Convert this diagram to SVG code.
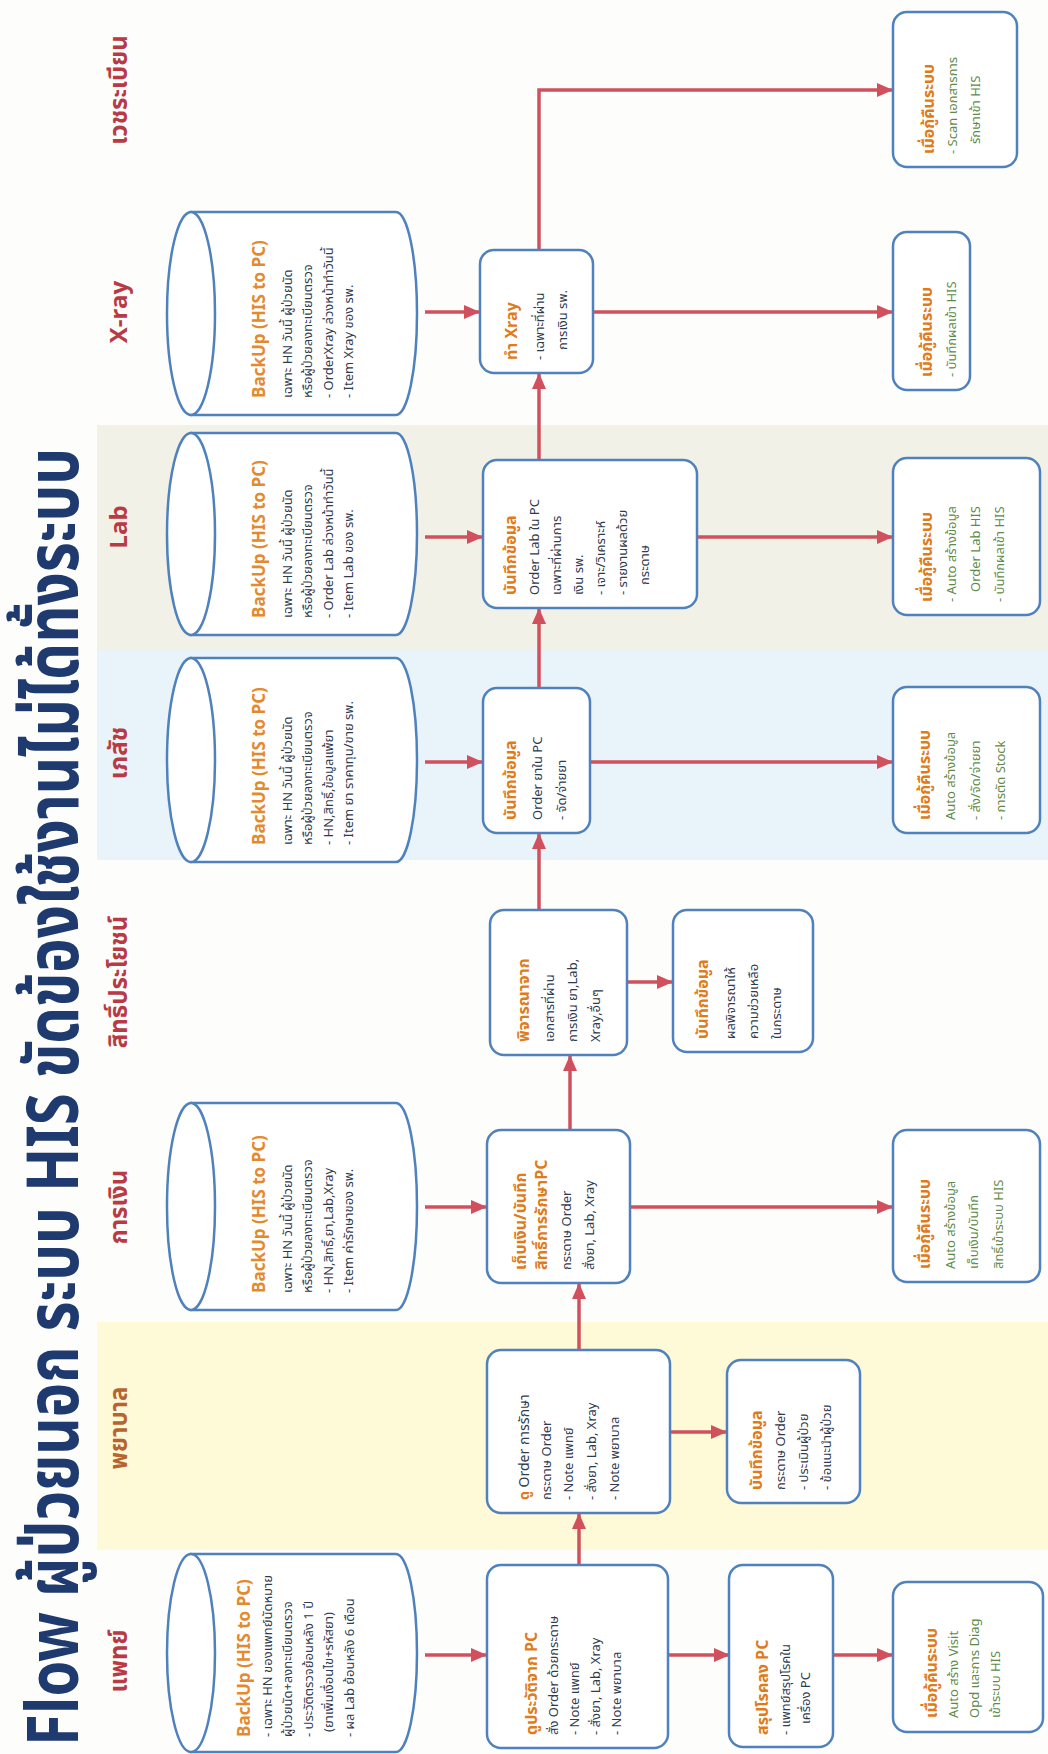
<svg xmlns="http://www.w3.org/2000/svg" width="1048" height="1754" viewBox="0 0 1048 1754">
<style>
text{font-family:"Noto Sans Thai","Noto Sans","DejaVu Sans",sans-serif}
.title{font-weight:700;font-size:72px;fill:#1e3a6e}
.hd{font-weight:700;font-size:24px;fill:#b83a44;text-anchor:middle}
.hd2{font-weight:700;font-size:24px;fill:#b7652f;text-anchor:middle}
.ct{font-weight:700;font-size:17px;fill:#e38a2e}
.bt{font-weight:700;font-size:16px;fill:#e07b1a}
.tx{font-size:13px;fill:#2f3b4f}
.gt{font-size:13px;fill:#5f8b4a}
.box{fill:#ffffff;stroke:#4f81bd;stroke-width:2.5}
.cyl{fill:#ffffff;stroke:#4f81bd;stroke-width:2.5}
.arr{fill:none;stroke:#d0505e;stroke-width:3.5;marker-end:url(#ah)}
</style>
<defs>
<marker id="ah" markerWidth="16" markerHeight="14" refX="15" refY="7" orient="auto" markerUnits="userSpaceOnUse"><path d="M0,0 L16,7 L0,14 Z" fill="#d0505e"/></marker>
</defs>
<rect x="0" y="0" width="1048" height="1754" fill="#fdfdfb"/>
<g transform="translate(0,1754) rotate(-90)">
<g id="bands">
<rect x="204" y="97" width="228" height="951" fill="#fef9d7"/>
<rect x="894" y="97" width="210" height="951" fill="#e8f4f9"/>
<rect x="1104" y="97" width="225" height="951" fill="#f2f1e7"/>
</g>
<text id="title" class="title" x="8" y="78" textLength="1298" lengthAdjust="spacingAndGlyphs">Flow ผู้ป่วยนอก ระบบ HIS ขัดข้องใช้งานไม่ได้ทั้งระบบ</text>
<g id="headers">
<text class="hd" x="93" y="127">แพทย์</text>
<text class="hd2" x="326" y="127">พยาบาล</text>
<text class="hd" x="547" y="127">การเงิน</text>
<text class="hd" x="772" y="127">สิทธิ์ประโยชน์</text>
<text class="hd" x="1001" y="127">เภสัช</text>
<text class="hd" x="1227" y="127">Lab</text>
<text class="hd" x="1442" y="127">X-ray</text>
<text class="hd" x="1664" y="127">เวชระเบียน</text>
</g>
<g id="connectors">
<path class="arr" d="M99,425 L99,486"/>
<path class="arr" d="M547,425 L547,486"/>
<path class="arr" d="M992,425 L992,482"/>
<path class="arr" d="M1217,425 L1217,482"/>
<path class="arr" d="M1442,425 L1442,479"/>
<path class="arr" d="M99,668 L99,729"/>
<path class="arr" d="M99,833 L99,892"/>
<path class="arr" d="M322,670 L322,726"/>
<path class="arr" d="M547,630 L547,892"/>
<path class="arr" d="M772,627 L772,672"/>
<path class="arr" d="M992,590 L992,892"/>
<path class="arr" d="M1217,697 L1217,892"/>
<path class="arr" d="M1442,593 L1442,892"/>
<path class="arr" d="M189,579 L240,579"/>
<path class="arr" d="M404,579 L470,579"/>
<path class="arr" d="M624,570 L698,570"/>
<path class="arr" d="M844,539 L920,539"/>
<path class="arr" d="M1066,539 L1145,539"/>
<path class="arr" d="M1294,539 L1380,539"/>
<path class="arr" d="M1504,539 L1664,539 L1664,892"/>
</g>
<g id="cyl-doctor">
<path class="cyl" d="M2,191 L2,396 A99,21 0 0 0 200,396 L200,191 Z"/>
<ellipse class="cyl" cx="101" cy="191" rx="99" ry="24"/>
<text class="ct" x="17" y="250">BackUp (HIS to PC)</text>
<text class="tx" x="17" y="272">- เฉพาะ HN ของแพทย์นัดหมาย</text>
<text class="tx" x="17" y="292">ผู้ป่วยนัด+ลงทะเบียนตรวจ</text>
<text class="tx" x="17" y="313">- ประวัติตรวจย้อนหลัง 1 ปี</text>
<text class="tx" x="22" y="333">(ยาเพิ่มเงื่อนไข+รหัสยา)</text>
<text class="tx" x="17" y="354">- ผล Lab ย้อนหลัง 6 เดือน</text>
</g>
<g id="cyl-finance">
<path class="cyl" d="M444,191 L444,396 A103.5,21 0 0 0 651,396 L651,191 Z"/>
<ellipse class="cyl" cx="547.5" cy="191" rx="103.5" ry="24"/>
<text class="ct" x="461" y="265">BackUp (HIS to PC)</text>
<text class="tx" x="461" y="292">เฉพาะ HN วันนี้ ผู้ป่วยนัด</text>
<text class="tx" x="461" y="312">หรือผู้ป่วยลงทะเบียนตรวจ</text>
<text class="tx" x="461" y="333">- HN,สิทธิ์,ยา,Lab,Xray</text>
<text class="tx" x="461" y="353">- Item ค่ารักษาของ รพ.</text>
</g>
<g id="cyl-pharmacy">
<path class="cyl" d="M892,191 L892,396 A102,21 0 0 0 1096,396 L1096,191 Z"/>
<ellipse class="cyl" cx="994" cy="191" rx="102" ry="24"/>
<text class="ct" x="909" y="265">BackUp (HIS to PC)</text>
<text class="tx" x="909" y="292">เฉพาะ HN วันนี้ ผู้ป่วยนัด</text>
<text class="tx" x="909" y="312">หรือผู้ป่วยลงทะเบียนตรวจ</text>
<text class="tx" x="909" y="333">- HN,สิทธิ์,ข้อมูลแพ้ยา</text>
<text class="tx" x="909" y="353">- Item ยา ราคาทุน/ขาย รพ.</text>
</g>
<g id="cyl-lab">
<path class="cyl" d="M1119,191 L1119,396 A101,21 0 0 0 1321,396 L1321,191 Z"/>
<ellipse class="cyl" cx="1220" cy="191" rx="101" ry="24"/>
<text class="ct" x="1136" y="265">BackUp (HIS to PC)</text>
<text class="tx" x="1136" y="292">เฉพาะ HN วันนี้ ผู้ป่วยนัด</text>
<text class="tx" x="1136" y="312">หรือผู้ป่วยลงทะเบียนตรวจ</text>
<text class="tx" x="1136" y="333">- Order Lab ล่วงหน้าทำวันนี้</text>
<text class="tx" x="1136" y="353">- Item Lab ของ รพ.</text>
</g>
<g id="cyl-xray">
<path class="cyl" d="M1339,191 L1339,396 A101.5,21 0 0 0 1542,396 L1542,191 Z"/>
<ellipse class="cyl" cx="1440.5" cy="191" rx="101.5" ry="24"/>
<text class="ct" x="1356" y="265">BackUp (HIS to PC)</text>
<text class="tx" x="1356" y="292">เฉพาะ HN วันนี้ ผู้ป่วยนัด</text>
<text class="tx" x="1356" y="312">หรือผู้ป่วยลงทะเบียนตรวจ</text>
<text class="tx" x="1356" y="333">- OrderXray ล่วงหน้าทำวันนี้</text>
<text class="tx" x="1356" y="353">- Item Xray ของ รพ.</text>
</g>
<g id="doc-view">
<rect class="box" x="6" y="487" width="183" height="181" rx="14"/>
<text class="bt" x="19" y="537">ดูประวัติจาก PC</text>
<text class="tx" x="19" y="558">สั่ง Order ด้วยกระดาษ</text>
<text class="tx" x="19" y="579">- Note แพทย์</text>
<text class="tx" x="19" y="600">- สั่งยา, Lab, Xray</text>
<text class="tx" x="19" y="621">- Note พยาบาล</text>
</g>
<g id="doc-summary">
<rect class="box" x="7" y="729" width="182" height="104" rx="14"/>
<text class="bt" x="19" y="768">สรุปโรคลง PC</text>
<text class="tx" x="19" y="790">- แพทย์สรุปโรคใน</text>
<text class="tx" x="30" y="810">เครื่อง PC</text>
</g>
<g id="doc-recover">
<rect class="box" x="22" y="893" width="150" height="150" rx="14"/>
<text class="bt" x="36" y="937">เมื่อกู้คืนระบบ</text>
<text class="gt" x="36" y="958">Auto สร้าง Visit</text>
<text class="gt" x="36" y="979">Opd และการ Diag</text>
<text class="gt" x="36" y="1000">เข้าระบบ HIS</text>
</g>
<g id="nurse-order">
<rect class="box" x="241" y="487" width="163" height="183" rx="14"/>
<text class="tx" x="254" y="529" style="font-size:14px"><tspan style="fill:#e07b1a;font-weight:700">ดู</tspan> Order การรักษา</text>
<text class="tx" x="254" y="551">กระดาษ Order</text>
<text class="tx" x="254" y="573">- Note แพทย์</text>
<text class="tx" x="254" y="596">- สั่งยา, Lab, Xray</text>
<text class="tx" x="254" y="619">- Note พยาบาล</text>
</g>
<g id="nurse-record">
<rect class="box" x="251" y="727" width="143" height="133" rx="14"/>
<text class="bt" x="264" y="762">บันทึกข้อมูล</text>
<text class="tx" x="264" y="785">กระดาษ Order</text>
<text class="tx" x="264" y="808">- ประเมินผู้ป่วย</text>
<text class="tx" x="264" y="831">- ข้อแนะนำผู้ป่วย</text>
</g>
<g id="fin-pay">
<rect class="box" x="471" y="487" width="153" height="143" rx="14"/>
<text class="bt" x="484" y="526">เก็บเงิน/บันทึก</text>
<text class="bt" x="484" y="547">สิทธิ์การรักษาPC</text>
<text class="tx" x="484" y="571">กระดาษ Order</text>
<text class="tx" x="484" y="594">สั่งยา, Lab, Xray</text>
</g>
<g id="fin-recover">
<rect class="box" x="472" y="893" width="152" height="147" rx="14"/>
<text class="bt" x="485" y="930">เมื่อกู้คืนระบบ</text>
<text class="gt" x="485" y="955">Auto สร้างข้อมูล</text>
<text class="gt" x="485" y="978">เก็บเงิน/บันทึก</text>
<text class="gt" x="485" y="1003">สิทธิ์เข้าระบบ HIS</text>
</g>
<g id="right-consider">
<rect class="box" x="699" y="490" width="145" height="137" rx="14"/>
<text class="bt" x="712" y="529">พิจารณาจาก</text>
<text class="tx" x="712" y="554">เอกสารที่ผ่าน</text>
<text class="tx" x="712" y="577">การเงิน ยา,Lab,</text>
<text class="tx" x="712" y="600">Xray,อื่นๆ</text>
</g>
<g id="right-record">
<rect class="box" x="702" y="673" width="142" height="140" rx="14"/>
<text class="bt" x="715" y="708">บันทึกข้อมูล</text>
<text class="tx" x="715" y="735">ผลพิจารณาให้</text>
<text class="tx" x="715" y="758">ความช่วยเหลือ</text>
<text class="tx" x="715" y="781">ในกระดาษ</text>
</g>
<g id="pharm-record">
<rect class="box" x="921" y="483" width="145" height="107" rx="14"/>
<text class="bt" x="934" y="516">บันทึกข้อมูล</text>
<text class="tx" x="934" y="542">Order ยาใน PC</text>
<text class="tx" x="934" y="566">- จัด/จ่ายยา</text>
</g>
<g id="pharm-recover">
<rect class="box" x="921" y="893" width="146" height="147" rx="14"/>
<text class="bt" x="934" y="930">เมื่อกู้คืนระบบ</text>
<text class="gt" x="934" y="955">Auto สร้างข้อมูล</text>
<text class="gt" x="934" y="980">- สั่ง/จัด/จ่ายยา</text>
<text class="gt" x="934" y="1005">- การตัด Stock</text>
</g>
<g id="lab-record">
<rect class="box" x="1146" y="483" width="148" height="214" rx="14"/>
<text class="bt" x="1159" y="516">บันทึกข้อมูล</text>
<text class="tx" x="1159" y="539">Order Lab ใน PC</text>
<text class="tx" x="1159" y="561">เฉพาะที่ผ่านการ</text>
<text class="tx" x="1159" y="583">เงิน รพ.</text>
<text class="tx" x="1159" y="605">- เจาะ/วิเคราะห์</text>
<text class="tx" x="1159" y="627">- รายงานผลด้วย</text>
<text class="tx" x="1169" y="649">กระดาษ</text>
</g>
<g id="lab-recover">
<rect class="box" x="1139" y="893" width="157" height="147" rx="14"/>
<text class="bt" x="1152" y="932">เมื่อกู้คืนระบบ</text>
<text class="gt" x="1152" y="956">- Auto สร้างข้อมูล</text>
<text class="gt" x="1162" y="980">Order Lab HIS</text>
<text class="gt" x="1152" y="1004">- บันทึกผลเข้า HIS</text>
</g>
<g id="xray-do">
<rect class="box" x="1381" y="480" width="123" height="113" rx="14"/>
<text class="bt" x="1394" y="517">ทำ Xray</text>
<text class="tx" x="1394" y="544">- เฉพาะที่ผ่าน</text>
<text class="tx" x="1404" y="567">การเงิน รพ.</text>
</g>
<g id="xray-recover">
<rect class="box" x="1364" y="893" width="158" height="77" rx="14"/>
<text class="bt" x="1377" y="932">เมื่อกู้คืนระบบ</text>
<text class="gt" x="1377" y="956">- บันทึกผลเข้า HIS</text>
</g>
<g id="mr-recover">
<rect class="box" x="1587" y="893" width="155" height="124" rx="14"/>
<text class="bt" x="1600" y="934">เมื่อกู้คืนระบบ</text>
<text class="gt" x="1600" y="957">- Scan เอกสารการ</text>
<text class="gt" x="1610" y="980">รักษาเข้า HIS</text>
</g>
</g>
</svg>
